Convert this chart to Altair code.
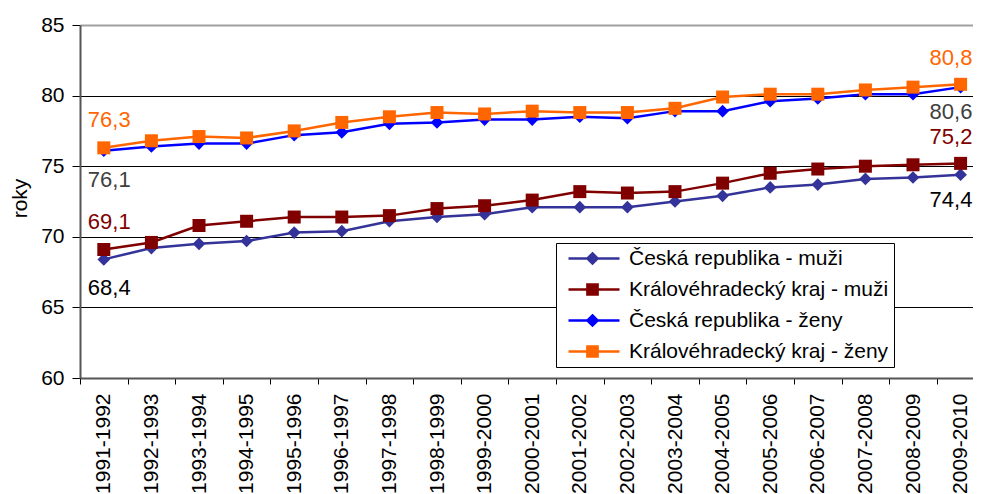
import altair as alt
import pandas as pd

periods = ["1991-1992", "1992-1993", "1993-1994", "1994-1995", "1995-1996",
           "1996-1997", "1997-1998", "1998-1999", "1999-2000", "2000-2001",
           "2001-2002", "2002-2003", "2003-2004", "2004-2005", "2005-2006",
           "2006-2007", "2007-2008", "2008-2009", "2009-2010"]

cr_muzi = [68.4, 69.2, 69.5, 69.7, 70.3, 70.4, 71.1, 71.4, 71.6, 72.1,
           72.1, 72.1, 72.5, 72.9, 73.5, 73.7, 74.1, 74.2, 74.4]
khk_muzi = [69.1, 69.6, 70.8, 71.1, 71.4, 71.4, 71.5, 72.0, 72.2, 72.6,
            73.2, 73.1, 73.2, 73.8, 74.5, 74.8, 75.0, 75.1, 75.2]
cr_zeny = [76.1, 76.4, 76.6, 76.6, 77.2, 77.4, 78.0, 78.1, 78.3, 78.3,
           78.5, 78.4, 78.9, 78.9, 79.6, 79.8, 80.1, 80.1, 80.6]
khk_zeny = [76.3, 76.8, 77.1, 77.0, 77.5, 78.1, 78.5, 78.8, 78.7, 78.9,
            78.8, 78.8, 79.1, 79.9, 80.1, 80.1, 80.4, 80.6, 80.8]

series_names = ["Česká republika - muži", "Královéhradecký kraj - muži",
                "Česká republika - ženy", "Královéhradecký kraj - ženy"]
series_values = [cr_muzi, khk_muzi, cr_zeny, khk_zeny]
line_colors = ["#333399", "#800000", "#0000FF", "#FF6600"]
label_colors = ["#000000", "#800000", "#404040", "#FF6600"]
marker_shapes = ["diamond", "square", "diamond", "square"]
marker_sizes = [160, 169, 160, 169]
label_above = [False, True, False, True]

legend_paths = [
    "M-0.5,0H8M3.5,-0.85L4.35,0L3.5,0.85L2.65,0Z",
    "M-0.5,0H8M2.65,-0.85H4.35V0.85H2.65Z",
    "M-0.5,0H8M3.5,-0.85L4.35,0L3.5,0.85L2.65,0Z",
    "M-0.5,0H8M2.65,-0.85H4.35V0.85H2.65Z",
]

rows = []
for name, vals in zip(series_names, series_values):
    for i, (p, v) in enumerate(zip(periods, vals)):
        rows.append({"period": p, "idx": i, "series": name, "value": v,
                     "label": f"{v:.1f}".replace(".", ",")})
df = pd.DataFrame(rows)

FONT = "Liberation Sans"
n = len(periods)
step = 47.6

x_enc = alt.X(
    "period:N", sort=periods,
    scale=alt.Scale(type="band", domain=periods, range=[0, step * n],
                    paddingInner=0, paddingOuter=0),
    axis=alt.Axis(title=None, labelAngle=270, labelAlign="right",
                  labelBaseline="middle", labelFontSize=21, labelFont=FONT,
                  labelColor="black", labelPadding=9, tickSize=6,
                  tickColor="black", tickWidth=1, tickBand="extent",
                  domainColor="#555555", domainWidth=2, grid=False,
                  labelOverlap=False),
)
y_enc = alt.Y(
    "value:Q",
    scale=alt.Scale(domain=[60, 85], nice=False, zero=False),
    axis=alt.Axis(values=[60, 65, 70, 75, 80, 85], title="roky",
                  titleFont=FONT, titleFontSize=21, titleFontWeight="normal",
                  titleColor="black", titleAngle=270, titleAlign="center",
                  titleBaseline="middle", titleX=-60, titleY=173,
                  labelFontSize=21, labelFont=FONT, labelColor="black",
                  labelPadding=8, tickSize=8, tickColor="black",
                  domainColor="#555555", domainWidth=2,
                  grid=True,
                  gridColor={"condition": {"test": "datum.value === 85", "value": "#a0a0a0"},
                             "value": "black"},
                  gridWidth={"condition": {"test": "datum.value === 85", "value": 2},
                             "value": 1}),
)

layers = []

leg = alt.Legend(orient="none", legendX=476, legendY=218, title=None,
                 labelFont=FONT, labelFontSize=21, labelColor="black",
                 labelLimit=500, symbolSize=144, symbolStrokeWidth=2.5,
                 symbolOpacity=1, labelOffset=47, padding=5, rowPadding=9,
                 strokeColor="black", fillColor="white")
legend_layer = alt.Chart(df).transform_filter("datum.idx < 0").mark_point(filled=True).encode(
    x=x_enc, y=y_enc,
    fill=alt.Fill("series:N", sort=series_names,
                  scale=alt.Scale(domain=series_names, range=line_colors), legend=leg),
    stroke=alt.Stroke("series:N", sort=series_names,
                      scale=alt.Scale(domain=series_names, range=line_colors), legend=leg),
    shape=alt.Shape("series:N", sort=series_names,
                    scale=alt.Scale(domain=series_names, range=legend_paths), legend=leg),
)
layers.append(legend_layer)

for name, lc, shp, sz in zip(series_names, line_colors, marker_shapes, marker_sizes):
    base = alt.Chart(df).transform_filter(alt.datum.series == name)
    layers.append(base.mark_line(color=lc, strokeWidth=2.5).encode(x=x_enc, y=y_enc))
    layers.append(base.mark_point(filled=True, shape=shp, size=sz, color=lc,
                                  opacity=1).encode(x=x_enc, y=y_enc))

last_idx = n - 1
for name, tc, above in zip(series_names, label_colors, label_above):
    base = alt.Chart(df).transform_filter(alt.datum.series == name)
    first = base.transform_filter(alt.datum.idx == 0).mark_text(
        color=tc, font=FONT, fontSize=22, align="left", baseline="middle",
        dx=-16, dy=-28 if above else 29).encode(x=x_enc, y=y_enc, text="label:N")
    last = base.transform_filter(alt.datum.idx == last_idx).mark_text(
        color=tc, font=FONT, fontSize=22, align="left", baseline="middle",
        dx=-31, dy=-26 if above else 25).encode(x=x_enc, y=y_enc, text="label:N")
    layers += [first, last]

chart = alt.layer(*layers).properties(
    width=893, height=353,
    padding={"left": 72, "top": 17, "right": 0, "bottom": 116},
    autosize=alt.AutoSizeParams(type="none"),
).configure(font=FONT).configure_view(stroke=None)

chart.save("out.html", embed_options={"renderer": "svg", "actions": False})
